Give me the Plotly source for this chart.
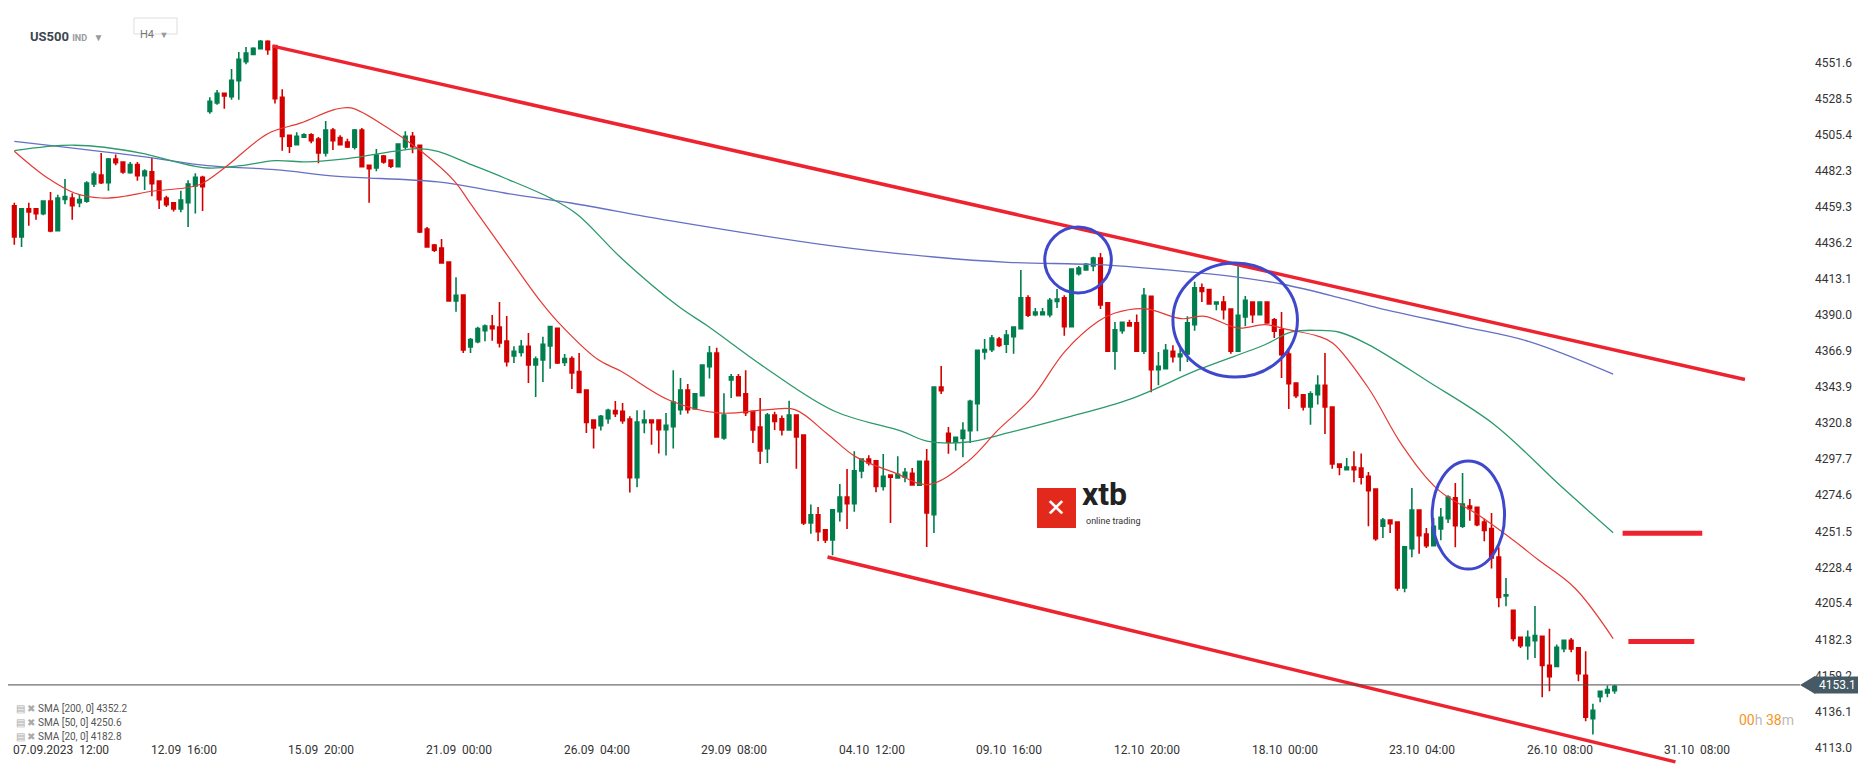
import plotly.graph_objects as go

# ---------------- data ----------------
opens = [4460,4440,4458,4458,4455,4463,4444,4464,4465,4462,4463,4474,4479.7,4474.8,4490,4488,4481.2,4486.4,4479.3,4481.7,
 4475.9,4465,4462,4458,4462,4472.7,4478.3,4520.5,4525.9,4532,4529.9,4540.2,4552.3,4557,4560.7,4565.4,4562.6,4529.5,4505.1,4499.2,
 4503.9,4505.4,4502.8,4493.8,4508.6,4503.7,4500.9,4497.5,4508.6,4485.9,4484.2,4491.9,4489.3,4485.1,4497.7,4504.5,4498.7,4445.1,4434.9,4433,
 4424,4399,4402.9,4369.6,4372.9,4380,4383,4382.4,4373.4,4363.8,4366.1,4370,4358,4361.2,4370.2,4381.5,4359.7,4362.1,4353.8,4342,
 4322.8,4319.2,4323.7,4328.8,4328.4,4323.4,4285.9,4321,4322.8,4322.8,4316.6,4318.5,4329.4,4342,4329.9,4338.4,4357,4365.7,4311.3,4348.4,
 4350.4,4339.5,4328.4,4318.3,4304.4,4326,4323.5,4316.4,4326,4313.2,4256.8,4262,4252.4,4246,4264.1,4273.5,4269.2,4290.2,4297.8,4296.6,
 4280.3,4287.6,4285.7,4286.1,4288.6,4281,4296.4,4262.2,4343.9,4314.3,4308.5,4311,4316,4333.3,4366.4,4367.9,4374.7,4371.3,4376.2,4381.3,
 4401,4390.3,4390.3,4390.3,4398.8,4401,4382.6,4416.5,4418.9,4421.4,4426.6,4397.8,4366.8,4380,4385,4385,4366.8,4402,4355,4355.7,
 4366.8,4363.4,4365.1,4383.9,4407.4,4406.3,4397.1,4398.4,4393.9,4366.8,4388.8,4398.4,4390.3,4398.4,4386.9,4380.5,4365.1,4346.5,4339,4331.1,
 4339,4345,4331.1,4294.6,4291,4292.7,4292,4286.7,4278.6,4254.7,4258.7,4257.5,4215.2,4240.4,4265.1,4249.8,4242.3,4253,4259.6,4272.9,
 4254.7,4267.7,4266.9,4257.5,4253.2,4235,4210.1,4200.9,4183.6,4178.3,4181.4,4184.3,4165.7,4165,4176.3,4181.7,4176.8,4159.3,4131.5,4145.6,
 4148,4149.4]
highs = [4462,4458.6,4462,4458,4463,4468.9,4467,4477.2,4468,4467,4475.7,4482,4493.8,4490.6,4492.8,4488,4488,4488,4483.4,4490.6,
 4476,4466.5,4462,4469.7,4476.3,4480.8,4479.3,4529.5,4534.2,4532,4547.6,4558.5,4561.7,4561.5,4566.2,4566,4563,4534.6,4505.1,4507.1,
 4506.4,4506.4,4504,4514.3,4509.9,4505.2,4503,4509.2,4509.8,4486,4496.4,4492.5,4489.3,4499.6,4507.7,4507.3,4499,4446.4,4435.5,4438.7,
 4424,4414.2,4403,4375.3,4382.6,4383.9,4390,4398.4,4389.4,4370,4374.1,4378.5,4363.4,4376.2,4383,4382,4365,4363.6,4365.7,4342,
 4322.8,4326,4330,4335,4333.7,4325.2,4329,4329,4322.8,4323,4327.3,4354.6,4349.7,4345.9,4340,4358,4370.2,4369,4340,4352.3,
 4352.3,4354.6,4328.4,4336.9,4327.3,4328,4325.6,4335.2,4326,4313.2,4268.6,4267,4252.4,4265.2,4281.8,4291.4,4302.7,4297.8,4300.2,4296.6,
 4301,4287.6,4299.5,4292.1,4292.1,4296.4,4304.2,4344.4,4357.4,4318.3,4312,4321.3,4335.8,4367.4,4374.7,4377.2,4376,4380.5,4382.4,4418.9,
 4402.7,4394.5,4394.5,4401,4406.7,4402.7,4419.5,4421.4,4423.4,4427.4,4429.8,4397.8,4385.6,4385.4,4387,4390.3,4407.4,4402,4366.4,4371.5,
 4370.6,4370.6,4389.2,4411.4,4410.3,4406.3,4398.4,4402.2,4393.9,4421.2,4402.2,4398.4,4398.4,4398.4,4388.2,4392,4367.9,4346.5,4339,4341.2,
 4351.4,4365.7,4331.1,4294.6,4298.5,4302.8,4301.3,4289.5,4278.6,4260,4258.7,4257.5,4241.5,4279.3,4265.1,4253.6,4260,4266.4,4274.6,4282.5,
 4288.9,4272.2,4266.9,4259.6,4263.2,4241.3,4221.6,4200.9,4183.6,4187.9,4203.7,4184.3,4189.1,4179,4181.7,4183.2,4176.8,4174.6,4141,4149,
 4152.7,4153.1]
lows = [4435,4433.6,4447.3,4451,4454,4443,4444,4461,4451.1,4459,4462,4472,4474,4469.7,4486,4480.6,4480.6,4476.1,4470.1,4466.1,
 4458,4459.3,4456.3,4455.8,4446.4,4455,4456.7,4519,4524.8,4522.2,4528,4528,4550.6,4556.6,4560.5,4556.8,4525.6,4495.3,4493.8,4498.8,
 4503.4,4500,4487.2,4491.5,4495.8,4498.8,4497,4496,4485,4462,4482.1,4487,4484.2,4485,4496,4493.6,4442.5,4433.4,4430.4,4423,
 4399,4392.2,4365.7,4365.7,4372,4373.2,4373.6,4369.3,4357,4359.3,4363.4,4346.5,4337.5,4347.1,4355.7,4358.7,4357.4,4342.6,4340.5,4314.5,
 4304.5,4316,4320.4,4324.7,4320.4,4276.3,4279.7,4314.3,4307,4301.3,4300,4304.5,4326.2,4326.9,4329.4,4338.4,4349.3,4311.9,4310.2,4336.9,
 4338.4,4325.4,4308.1,4294.6,4295.3,4316.4,4312.8,4316.4,4291.6,4255.6,4250,4245.1,4244,4236.1,4257.7,4253,4264.1,4285.5,4293.6,4276.5,
 4277.6,4256.8,4285.7,4283,4281.2,4281,4241.5,4250.4,4339.5,4301.2,4303.2,4298.9,4308.1,4315.6,4361.5,4366.4,4369.6,4365.7,4365.3,4381.3,
 4388.8,4389.2,4390,4388.6,4394.5,4376.8,4382.6,4415.3,4418.5,4418,4393.9,4366.8,4355,4378.1,4382.6,4366.8,4365.1,4340.5,4345,4355.7,
 4359.7,4354,4360,4380,4398.4,4396.7,4393.1,4387.1,4365.3,4366.8,4382.8,4385,4390.3,4384.5,4375.3,4349.7,4329.9,4336.9,4328.8,4319.8,
 4332.7,4313.8,4291.6,4287.4,4291,4282.9,4281.4,4254.7,4245.5,4247.2,4250.4,4213.5,4212.4,4234.8,4237.2,4240.8,4242.3,4245.7,4256.8,4241.3,
 4253.6,4258.3,4254.7,4245.1,4227.6,4202.8,4203.5,4181.1,4176.8,4169.3,4170.4,4145.2,4149,4165,4174,4174,4155.4,4129.8,4121.3,4142,
 4145.2,4147.5]
closes = [4440,4458,4456,4455,4463.1,4443.9,4465,4466,4460.1,4464,4474.6,4480.4,4474.8,4490,4487.6,4481.7,4486.4,4479.3,4482.3,4474.2,
 4463.9,4460.7,4458,4463.7,4474,4478.3,4472.3,4526.9,4532.1,4530.3,4540.4,4553.8,4557.9,4560.9,4565.4,4560,4528.6,4504.5,4498.1,4504.5,
 4505.4,4501.7,4493.8,4508.6,4501.7,4499.2,4497.7,4508.6,4485.1,4483.8,4492.5,4488.1,4485.3,4499.6,4504.5,4497.9,4443.2,4433.6,4431.5,4423.4,
 4399,4402.7,4367.7,4374.3,4381.3,4383,4381.3,4372.1,4360.2,4366.8,4370,4358,4361.9,4371.3,4382.6,4359.3,4362.1,4352.9,4340.5,4321.3,
 4317.7,4325.2,4329,4326.9,4322.4,4285.9,4321.5,4322.8,4321,4316.6,4319.4,4334.3,4342,4329.4,4339.5,4358,4365.7,4311.9,4326,4350.4,
 4338.4,4327.5,4316.4,4303,4326,4321.8,4316.4,4326,4311.9,4256.8,4262,4251.3,4246,4265.2,4273.5,4269.2,4290.2,4297.8,4295.3,4280.3,
 4286.7,4286.1,4288,4289.3,4281.2,4296.4,4263.3,4343.9,4341.6,4308.5,4311.7,4316.2,4334.8,4367.4,4367.9,4375.3,4370.6,4377.2,4382.4,4401,
 4389.9,4392,4392,4399.5,4400.3,4382.6,4419.5,4420.2,4422.5,4426.6,4396.5,4366.8,4380.5,4385.4,4383,4366.8,4402.7,4355,4357.2,4367.4,
 4363.4,4365.1,4385,4407.4,4405.2,4397.1,4398.4,4393.5,4366.8,4389.9,4399.5,4390.3,4398.4,4385,4379.6,4364.7,4346.1,4338.4,4331.1,4339.5,
 4345,4331.1,4294.6,4292.5,4292.7,4291,4286.1,4277.5,4246.8,4258.7,4256.4,4215.2,4241.5,4265.1,4248.7,4242.3,4254.7,4260.5,4273.5,4255.1,
 4269,4266,4255.8,4252,4234.4,4209.2,4210.9,4182.8,4178.3,4183.6,4184.7,4165.5,4158.4,4177.2,4181.7,4176.1,4160.3,4132.4,4136.9,4149,
 4150.1,4152.2]

date_labels = ["07.09.2023  12:00","12.09  16:00","15.09  20:00","21.09  00:00","26.09  04:00","29.09  08:00",
               "04.10  12:00","09.10  16:00","12.10  20:00","18.10  00:00","23.10  04:00","26.10  08:00","31.10  08:00"]
date_pos = [0,19,38,57,76,95,114,133,152,171,190,209,228]

price_ticks = [4551.6,4528.5,4505.4,4482.3,4459.3,4436.2,4413.1,4390.0,4366.9,4343.9,4320.8,4297.7,
               4274.6,4251.5,4228.4,4205.4,4182.3,4159.2,4136.1,4113.0]

sma200_x = [0,17.5,26.7,36,44.7,58.5,67.7,76.9,90.3,112.4,127,137.2,149.7,158.9,168.1,175,182.8,188.4,199.9,209.1,220.8]
sma200_y = [4501.3,4491.7,4485.7,4483.2,4478.9,4475.3,4468.2,4461.8,4450.7,4434.7,4427.2,4423.8,4422.3,4419.1,4414.8,4409.9,4401.4,4394.5,4382.8,4373.2,4352.2]
sma50_x = [0,8.3,17.5,22,26.7,31.3,36,40.5,46,55.8,58.5,63.1,67.7,74.2,77.8,83.8,91.7,95.8,104.1,113.3,122.5,126.2,131.7,137.2,
           145.1,154.3,163.5,172.7,176.4,180.1,183,187,195.2,204.4,213.6,220.8]
sma50_y = [4495.3,4498.8,4493.8,4488.5,4484.2,4485.7,4488.9,4488.1,4490.2,4496.6,4494.9,4486.4,4477.8,4464.6,4454.3,4426.6,4395.6,4382.8,4355,4328.4,4315.6,4309.1,4308.7,4314.5,
           4324.1,4336.5,4355,4371,4379.2,4380.2,4379,4371.1,4347.6,4319.8,4280.3,4250.6]
sma20_x = [0,1.9,4.6,8.3,12,15.2,18.9,23.5,25.8,29,35,39.6,44.2,46.5,51.6,56.2,60.8,63.1,67.7,72.3,75,80.6,83.8,90.3,97.2,104.1,107.8,
           112.4,116.1,121.6,126.2,131.7,135.9,140.5,145.1,149.7,152,156.1,161.2,164.4,169,172.7,175.9,180.1,182.1,187,191.6,196.6,202.1,207.2,210.4,215.5,220.8]
sma20_y = [4494.9,4487.4,4477.8,4468.2,4465,4466.1,4469.3,4471.4,4474,4484.2,4506.2,4513.1,4521.6,4522.7,4509.8,4494.9,4475.7,4460.7,4430.8,4401,4386,4361.5,4354,4335.8,4327.3,4329.4,4329.4,
           4313.4,4299.5,4288.9,4281.4,4296.3,4316.6,4336.9,4366.8,4386,4391.3,4394.1,4387.7,4389.2,4381.7,4383.9,4380.7,4376.4,4372,4343.3,4307,4278.2,4262.2,4245.1,4233.4,4215.2,4182.8]

upper_x, upper_y = [35.7, 239], [4562.3, 4348.7]
lower_x, lower_y = [112.3, 229.4], [4235.0, 4103.8]
level_y = [4250.3, 4180.9]
level_x = [[222.1, 233.1], [222.9, 232.0]]
circles = [(146.9, 4.6, 4425.3, 21.1), (168.6, 8.6, 4386.8, 36.5), (200.8, 5.0, 4261.9, 34.6)]
last_price = 4153.1
sma_labels = ["SMA [200, 0] 4352.2", "SMA [50, 0] 4250.6", "SMA [20, 0] 4182.8"]

# clean highs/lows
highs = [max(h, o, c) for h, o, c in zip(highs, opens, closes)]
lows = [min(l, o, c) for l, o, c in zip(lows, opens, closes)]

W, H = 1866, 767
PLOT_W = 1792
XMIN, XMAX = -0.87, 246.6
YMIN, YMAX = 4095.4, 4586.7
GREEN, RED = "#007e4e", "#d40000"

fig = go.Figure()
fig.add_trace(go.Scatter(x=sma200_x, y=sma200_y, mode="lines", line=dict(color="#6670c4", width=1.3, shape="spline"), hoverinfo="skip"))
fig.add_trace(go.Scatter(x=sma50_x, y=sma50_y, mode="lines", line=dict(color="#2c9a6b", width=1.3, shape="spline"), hoverinfo="skip"))
fig.add_trace(go.Scatter(x=sma20_x, y=sma20_y, mode="lines", line=dict(color="#e53935", width=1.2, shape="spline"), hoverinfo="skip"))
fig.add_trace(go.Candlestick(x=list(range(len(closes))), open=opens, high=highs, low=lows, close=closes,
                             increasing=dict(line=dict(color=GREEN, width=1.6), fillcolor=GREEN),
                             decreasing=dict(line=dict(color=RED, width=1.6), fillcolor=RED),
                             whiskerwidth=0))
fig.add_trace(go.Scatter(x=upper_x, y=upper_y, mode="lines", line=dict(color="#ee2330", width=3.5), hoverinfo="skip"))
fig.add_trace(go.Scatter(x=lower_x, y=lower_y, mode="lines", line=dict(color="#ee2330", width=3.5), hoverinfo="skip"))
for ly, lx in zip(level_y, level_x):
    fig.add_trace(go.Scatter(x=lx, y=[ly, ly], mode="lines", line=dict(color="#ee2330", width=5), hoverinfo="skip"))

shapes = []
for cx, rx, cy, ry in circles:
    shapes.append(dict(type="circle", xref="x", yref="y", x0=cx - rx, x1=cx + rx, y0=cy - ry, y1=cy + ry,
                       line=dict(color="#3f48cc", width=3)))
shapes.append(dict(type="line", xref="paper", yref="y", x0=0, x1=1, y0=last_price, y1=last_price,
                   line=dict(color="#4a4a4a", width=1)))
shapes.append(dict(type="path", xref="paper", yref="y",
                   path=f"M 1.0 {last_price} L 1.0085 {last_price+5.8} L 1.0085 {last_price-5.8} Z",
                   fillcolor="#455a64", line=dict(width=0)))
def px(x): return x / PLOT_W
def py(y): return 1 - y / H
shapes.append(dict(type="rect", xref="paper", yref="paper", x0=px(1029), x1=px(1068), y0=py(520), y1=py(480),
                   fillcolor="#e3291b", line=dict(width=0)))
shapes.append(dict(type="rect", xref="paper", yref="paper", x0=px(126), x1=px(169), y0=py(26), y1=py(10),
                   line=dict(color="#dddddd", width=1), fillcolor="rgba(0,0,0,0)"))

ann = []
for lab, pos in zip(date_labels, date_pos):
    ann.append(dict(x=pos, y=py(751), xref="x", yref="paper", text=lab, showarrow=False, xanchor="left",
                    xshift=-3, font=dict(family="Roboto", size=12, color="#333")))
ann.append(dict(x=1, y=last_price, xref="paper", yref="y", text=" 4153.1 ", showarrow=False, xanchor="left",
                xshift=14, bgcolor="#455a64", font=dict(family="Roboto", size=12, color="white"), borderpad=1))
for k, t in enumerate(sma_labels):
    ann.append(dict(x=px(6), y=py(708 + 14 * k), xref="paper", yref="paper", xanchor="left", showarrow=False,
                    text=f"<span style='color:#aaa'>▤ ✖</span> {t}", font=dict(family="Roboto", size=10, color="#555")))
ann.append(dict(x=px(1788), y=py(722), xref="paper", yref="paper", xanchor="right", showarrow=False,
                text="<span style='color:#f7941d'>00</span><span style='color:#bbb'>h</span> <span style='color:#f7941d'>38</span><span style='color:#bbb'>m</span>",
                font=dict(family="Roboto", size=14)))
ann.append(dict(x=px(20), y=py(19), xref="paper", yref="paper", xanchor="left", showarrow=False,
                text="<b>US500</b> <span style='font-size:9px;color:#999'><b>IND</b></span>  <span style='color:#999;font-size:10px'>▼</span>",
                font=dict(family="Roboto", size=13, color="#3c4650")))
ann.append(dict(x=px(130), y=py(18), xref="paper", yref="paper", xanchor="left", showarrow=False,
                text="H4  <span style='color:#999;font-size:9px'>▼</span>", font=dict(family="Roboto", size=11, color="#777")))
ann.append(dict(x=px(1048), y=py(500), xref="paper", yref="paper", showarrow=False,
                text="<b>✕</b>", font=dict(family="DejaVu Sans", size=24, color="white")))
ann.append(dict(x=px(1072), y=py(486), xref="paper", yref="paper", xanchor="left", showarrow=False,
                text="<b>xtb</b>", font=dict(family="Roboto", size=32, color="#222")))
ann.append(dict(x=px(1076), y=py(520), xref="paper", yref="paper", xanchor="left", showarrow=False,
                text="online trading", font=dict(family="Roboto", size=9, color="#333")))

fig.update_layout(
    width=W, height=H, margin=dict(l=0, r=W - PLOT_W, t=0, b=0),
    paper_bgcolor="white", plot_bgcolor="white", showlegend=False,
    shapes=shapes, annotations=ann,
    xaxis=dict(range=[XMIN, XMAX], showgrid=False, zeroline=False, showticklabels=False,
               rangeslider=dict(visible=False), fixedrange=True),
    yaxis=dict(range=[YMIN, YMAX], side="right", showgrid=False, zeroline=False, tickvals=price_ticks,
               ticktext=[f"{v:.1f}" for v in price_ticks], ticks="", ticklabelstandoff=14,
               tickfont=dict(family="Roboto", size=12, color="#333")),
)
fig.write_html("out.html")
